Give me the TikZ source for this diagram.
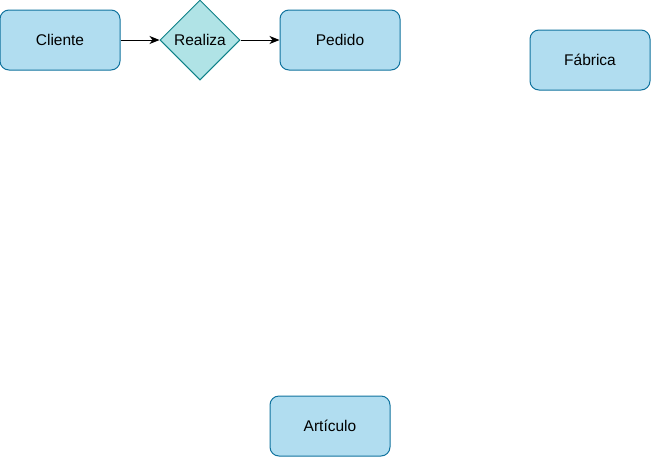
\documentclass[tikz,border=0pt]{standalone}
\usepackage{fontspec}
\setmainfont{Liberation Sans}
\usetikzlibrary{shapes.geometric,arrows.meta}
\definecolor{boxfill}{HTML}{B1DDF0}
\definecolor{boxline}{HTML}{10739E}
\definecolor{dfill}{HTML}{B0E3E6}
\definecolor{dline}{HTML}{0E8088}
\tikzset{
  entity/.style={draw=boxline, fill=boxfill, line width=1pt, rounded corners=9pt,
    minimum width=120pt, minimum height=60pt, inner sep=0pt,
    font=\fontsize{15.5}{18}\selectfont},
  relation/.style={draw=dline, fill=dfill, line width=1pt, diamond, aspect=1,
    minimum width=80pt, minimum height=80pt, inner sep=0pt,
    font=\fontsize{15.5}{18}\selectfont},
  conn/.style={line width=1pt, -{Stealth[length=10pt,width=8pt,inset=3pt]}}
}
\begin{document}
\begin{tikzpicture}[x=1pt,y=-1pt]
\useasboundingbox (0,0) rectangle (651,456);
\node[entity] (cliente) at (60,40) {Cliente};
\node[relation] (realiza) at (200,40) {Realiza};
\node[entity] (pedido) at (340,40) {Pedido};
\node[entity] (fabrica) at (590,60) {Fábrica};
\node[entity] (articulo) at (330,426) {Artículo};
\draw[conn] (cliente.east) -- (realiza.west);
\draw[conn] (realiza.east) -- (pedido.west);
\end{tikzpicture}
\end{document}
